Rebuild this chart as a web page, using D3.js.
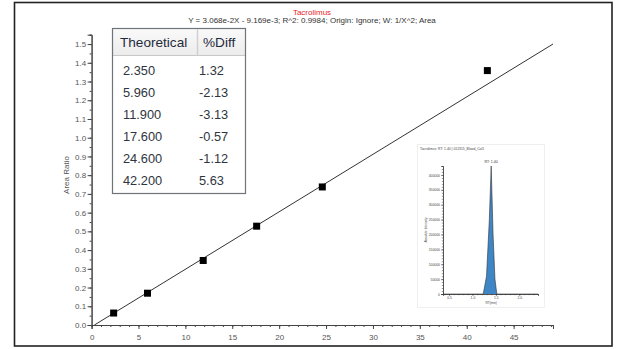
<!DOCTYPE html>
<html>
<head>
<meta charset="utf-8">
<script src="https://cdn.jsdelivr.net/npm/d3@7"></script>
<style>
  html, body { margin: 0; padding: 0; background: #fff; }
  svg { display: block; }
  text { font-family: "Liberation Sans", Arial, sans-serif; }
</style>
</head>
<body>
<svg id="chart" width="620" height="349"></svg>
<script>
// Calibration standards for tacrolimus
const theoretical = [2.35, 5.96, 11.9, 17.6, 24.6, 42.2];
const theoreticalLabels = ["2.350", "5.960", "11.900", "17.600", "24.600", "42.200"];
const pctDiff = ["1.32", "-2.13", "-3.13", "-0.57", "-1.12", "5.63"];
const areaRatio = [0.0639, 0.1698, 0.3445, 0.5277, 0.7371, 1.3584];

// Weighted linear fit
const slope = 3.068e-2;
const intercept = -9.169e-3;

const xTicks = [0, 5, 10, 15, 20, 25, 30, 35, 40, 45];
const yTicks = [0.0, 0.1, 0.2, 0.3, 0.4, 0.5, 0.6, 0.7, 0.8, 0.9, 1.0, 1.1, 1.2, 1.3, 1.4, 1.5];

// Chromatogram of the Cal1 injection
const peakRT = [0.37, 1.23, 1.30, 1.36, 1.40, 1.44, 1.48, 1.52, 2.40];
const peakIntensity = [0, 0, 60000, 250000, 430000, 200000, 50000, 0, 0];
const insetXTicks = [0.5, 1.0, 1.5, 2.0];
const insetYTicks = [0, 50000, 100000, 150000, 200000, 250000, 300000, 350000, 400000];

const svg = d3.select("#chart");

// outer frame
svg.append("rect")
  .attr("x", 14.5).attr("y", 2.5).attr("width", 597.5).attr("height", 343.5)
  .attr("fill", "none").attr("stroke", "#222").attr("stroke-width", 1.6);

// titles
svg.append("text").attr("x", 312).attr("y", 14.5).attr("text-anchor", "middle")
  .attr("font-size", 8).attr("fill", "#e8262a").text("Tacrolimus");
svg.append("text").attr("x", 312).attr("y", 22.5).attr("text-anchor", "middle")
  .attr("font-size", 8).attr("fill", "#333")
  .text("Y = 3.068e-2X - 9.169e-3; R^2: 0.9984; Origin: Ignore; W: 1/X^2; Area");

const x = d3.scaleLinear().domain([0, 49.2]).range([91.6, 553]);
const y = d3.scaleLinear().domain([0, 1.55]).range([325, 34.7]);

const axisColor = "#444";
const labelColor = "#555";

// x axis: minor then major ticks
const gx = svg.append("g").attr("transform", `translate(0,${y(0)})`);
gx.call(d3.axisBottom(x).tickValues(d3.range(0, 50, 1)).tickSize(2).tickFormat(""));
const gxMaj = svg.append("g").attr("transform", `translate(0,${y(0)})`);
gxMaj.call(d3.axisBottom(x).tickValues(xTicks).tickSize(4).tickFormat(d3.format("d")));
[gx, gxMaj].forEach(g => {
  g.select(".domain").attr("stroke", axisColor);
  g.selectAll(".tick line").attr("stroke", axisColor);
  g.selectAll(".tick text").attr("fill", labelColor).attr("font-size", 8)
    .attr("font-family", "Liberation Sans, Arial, sans-serif").attr("dy", "0.95em");
});

// y axis
const gy = svg.append("g").attr("transform", `translate(${x(0)},0)`);
gy.call(d3.axisLeft(y).tickValues(d3.range(0, 1.56, 0.05)).tickSize(2).tickFormat(""));
const gyMaj = svg.append("g").attr("transform", `translate(${x(0)},0)`);
gyMaj.call(d3.axisLeft(y).tickValues(yTicks).tickSize(4).tickFormat(d3.format(".1f")).tickPadding(1.5));
[gy, gyMaj].forEach(g => {
  g.select(".domain").attr("stroke", axisColor);
  g.selectAll(".tick line").attr("stroke", axisColor);
  g.selectAll(".tick text").attr("fill", labelColor).attr("font-size", 8)
    .attr("font-family", "Liberation Sans, Arial, sans-serif");
});

svg.append("text")
  .attr("transform", `translate(69,175) rotate(-90)`)
  .attr("text-anchor", "middle").attr("font-size", 8).attr("fill", labelColor)
  .text("Area Ratio");

// regression line
const x0 = -intercept / slope;
const x1 = 49.2;
svg.append("line")
  .attr("x1", x(x0)).attr("y1", y(slope * x0 + intercept))
  .attr("x2", x(x1)).attr("y2", y(slope * x1 + intercept))
  .attr("stroke", "#333").attr("stroke-width", 1);

// calibration points
svg.append("g").selectAll("rect")
  .data(theoretical.map((t, i) => ({ t, r: areaRatio[i] })))
  .join("rect")
  .attr("x", d => x(d.t) - 3.5).attr("y", d => y(d.r) - 3.5)
  .attr("width", 7).attr("height", 7).attr("fill", "#000");

// results table
const tbl = { left: 112.5, right: 245.5, top: 28.5, bottom: 193.5, head: 55.5, col: 197.5 };
const defs = svg.append("defs");
const grad = defs.append("linearGradient").attr("id", "headGrad")
  .attr("x1", 0).attr("y1", 0).attr("x2", 0).attr("y2", 1);
grad.append("stop").attr("offset", "0%").attr("stop-color", "#fafafa");
grad.append("stop").attr("offset", "100%").attr("stop-color", "#ececec");

svg.append("rect").attr("x", tbl.left).attr("y", tbl.top)
  .attr("width", tbl.right - tbl.left).attr("height", tbl.bottom - tbl.top)
  .attr("fill", "#fff");
svg.append("rect").attr("x", tbl.left).attr("y", tbl.top)
  .attr("width", tbl.right - tbl.left).attr("height", tbl.head - tbl.top)
  .attr("fill", "url(#headGrad)");
svg.append("line").attr("x1", tbl.left).attr("x2", tbl.right)
  .attr("y1", tbl.head).attr("y2", tbl.head).attr("stroke", "#c8c8c8");
svg.append("line").attr("x1", tbl.col).attr("x2", tbl.col)
  .attr("y1", tbl.top + 1).attr("y2", tbl.head).attr("stroke", "#d0d0d0").attr("stroke-width", 1.5);
svg.append("rect").attr("x", tbl.left).attr("y", tbl.top)
  .attr("width", tbl.right - tbl.left).attr("height", tbl.bottom - tbl.top)
  .attr("fill", "none").attr("stroke", "#6d747c").attr("stroke-width", 1.2);

const tableFont = "'Open Sans', 'Noto Sans', sans-serif";
svg.append("text").attr("x", 120).attr("y", 47).attr("font-size", 13.6)
  .attr("font-family", tableFont).attr("fill", "#1f2a3c").text("Theoretical");
svg.append("text").attr("x", 203).attr("y", 47).attr("font-size", 13.6)
  .attr("font-family", tableFont).attr("fill", "#1f2a3c").text("%Diff");

const rowY = d3.scaleLinear().domain([0, 5]).range([74.5, 184.5]);
svg.append("g").selectAll("text")
  .data(theoreticalLabels).join("text")
  .attr("x", 123).attr("y", (d, i) => rowY(i))
  .attr("font-size", 12.8).attr("font-family", tableFont).attr("fill", "#2f3540")
  .text(d => d);
svg.append("g").selectAll("text")
  .data(pctDiff).join("text")
  .attr("x", 199).attr("y", (d, i) => rowY(i))
  .attr("font-size", 12.8).attr("font-family", tableFont).attr("fill", "#2f3540")
  .text(d => d);

// chromatogram inset
const inset = svg.append("g");
inset.append("rect").attr("x", 417.5).attr("y", 144.5).attr("width", 127).attr("height", 163)
  .attr("fill", "#fff").attr("stroke", "#ececec").attr("stroke-width", 0.8);
inset.append("text").attr("x", 420).attr("y", 150).attr("font-size", 3.4).attr("fill", "#444")
  .text("Tacrolimus: RT: 1.40 | 012315_Blood_Cal1");

const ix = d3.scaleLinear().domain([0.37, 2.4]).range([443, 538]);
const iy = d3.scaleLinear().domain([0, 430000]).range([294, 166]);

const area = d3.area().x(d => ix(d[0])).y0(iy(0)).y1(d => iy(d[1]));
const peakPts = peakRT.map((t, i) => [t, peakIntensity[i]]);
inset.append("path").datum(peakPts.filter(d => d[0] >= 1.23 && d[0] <= 1.52))
  .attr("d", area).attr("fill", "#3f86c6");
inset.append("path").datum(peakPts)
  .attr("d", d3.line().x(d => ix(d[0])).y(d => iy(d[1])))
  .attr("fill", "none").attr("stroke", "#333").attr("stroke-width", 0.6);

const igx = inset.append("g").attr("transform", `translate(0,${iy(0)})`);
igx.call(d3.axisBottom(ix).tickValues(d3.range(0.4, 2.41, 0.1)).tickSize(1.2).tickFormat(""));
const igxMaj = inset.append("g").attr("transform", `translate(0,${iy(0)})`);
igxMaj.call(d3.axisBottom(ix).tickValues(insetXTicks).tickSize(2).tickFormat(d3.format(".1f")).tickPadding(1));
const igy = inset.append("g").attr("transform", `translate(${ix(0.37)},0)`);
igy.call(d3.axisLeft(iy).tickValues(d3.range(0, 430001, 10000)).tickSize(1.2).tickFormat(""));
const igyMaj = inset.append("g").attr("transform", `translate(${ix(0.37)},0)`);
igyMaj.call(d3.axisLeft(iy).tickValues(insetYTicks).tickSize(2).tickFormat(d3.format("d")).tickPadding(1));
[igx, igxMaj, igy, igyMaj].forEach(g => {
  g.select(".domain").attr("stroke", "#333").attr("stroke-width", 0.6);
  g.selectAll(".tick line").attr("stroke", "#333").attr("stroke-width", 0.5);
  g.selectAll(".tick text").attr("fill", "#444").attr("font-size", 3.4)
    .attr("font-family", "Liberation Sans, Arial, sans-serif");
});
inset.append("text").attr("x", ix(1.40)).attr("y", 163).attr("text-anchor", "middle")
  .attr("font-size", 3.6).attr("fill", "#333").text("RT: 1.40");
inset.append("text").attr("x", ix(1.40)).attr("y", 304).attr("text-anchor", "middle")
  .attr("font-size", 3.2).attr("fill", "#444").text("RT(min)");
inset.append("text").attr("transform", "translate(427,230) rotate(-90)")
  .attr("text-anchor", "middle").attr("font-size", 3.2).attr("fill", "#444")
  .text("Absolute Intensity");
</script>
</body>
</html>
